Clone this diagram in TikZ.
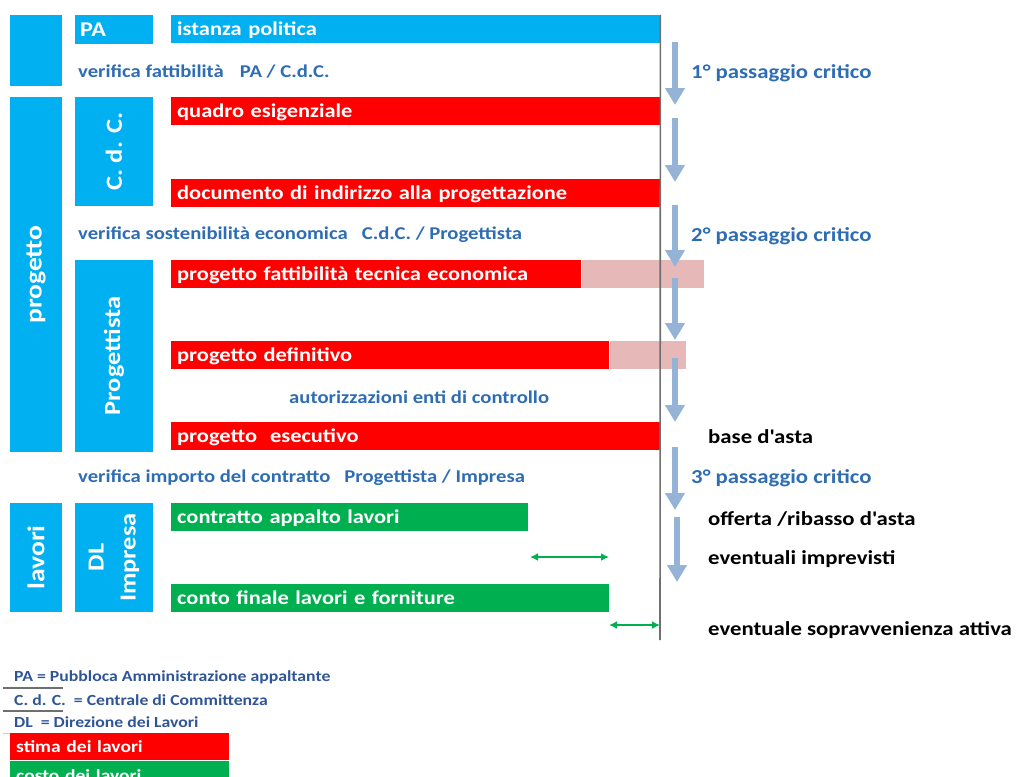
\documentclass[tikz,border=0pt]{standalone}
\usepackage{fontspec}
\setmainfont{Carlito}[FakeStretch=1.15]
\usetikzlibrary{arrows.meta}

\definecolor{boxblue}{HTML}{00B0F0}
\definecolor{barred}{HTML}{FF0000}
\definecolor{bargreen}{HTML}{00B050}
\definecolor{barpink}{HTML}{E6B9B8}
\definecolor{txtblue}{HTML}{2E6DB4}
\definecolor{legblue}{HTML}{2F5597}
\definecolor{flowblue}{HTML}{95B3D7}
\definecolor{axisgray}{HTML}{6F6F6F}

\tikzset{
	box/.style = {
		fill = boxblue,
		text = white,
		inner sep = 0pt,
		font = \bfseries\fontsize{23}{26}\selectfont,
	},
	bar/.style = {
		anchor = north west,
		minimum height = 28pt,
		text width = #1,
		inner xsep = 6pt,
		inner ysep = 0pt,
		text height = 15pt,
		text depth = 2pt,
		align = left,
		text = white,
		font = \bfseries\fontsize{19.5}{22}\selectfont,
	},
	extra/.style = {
		anchor = north west,
		fill = barpink,
		minimum width = #1,
		minimum height = 28pt,
		inner sep = 0pt,
	},
	check/.style = {
		anchor = west,
		inner sep = 0pt,
		text = txtblue,
		font = \bfseries\fontsize{18}{20}\selectfont,
	},
	note/.style = {
		anchor = west,
		inner sep = 0pt,
		font = \bfseries\fontsize{19.8}{22}\selectfont,
	},
	legend/.style = {
		anchor = west,
		inner sep = 0pt,
		text = legblue,
		font = \bfseries\fontsize{15.4}{17}\selectfont,
	},
	flow/.style = {
		draw = flowblue,
		line width = 6pt,
		-{Triangle[width = 19pt, length = 17pt]},
	},
	gap/.style = {
		draw = bargreen,
		line width = 2pt,
		{Latex[length = 8pt, width = 8pt]}-{Latex[length = 8pt, width = 8pt]},
	},
}

\begin{document}
\begin{tikzpicture}[x = 1pt, y = -1pt]

	\useasboundingbox (0,0) rectangle (1019,776);
	\clip (0,0) rectangle (1019,776);

	% left columns
	\node[box, anchor = north west, minimum width = 52pt, minimum height = 71pt]
		(start) at (10,15) {};
	\node[box, rotate = 90, minimum width = 355pt, minimum height = 52pt,
		font = \bfseries\fontsize{24}{26}\selectfont]
		(progetto) at (36,274.5) {progetto};
	\node[box, rotate = 90, minimum width = 109pt, minimum height = 52pt,
		font = \bfseries\fontsize{24}{26}\selectfont]
		(lavori) at (36,557.5) {lavori};

	\node[box, anchor = north west, minimum height = 29pt, text width = 68pt,
		inner xsep = 5pt, align = left, text height = 16pt, text depth = 2pt,
		font = \bfseries\fontsize{21}{24}\selectfont]
		(pa) at (75,15) {PA};
	\node[box, rotate = 90, minimum width = 109pt, minimum height = 78pt]
		(cdc) at (114,151.5) {C. d. C.};
	\node[box, rotate = 90, minimum width = 192pt, minimum height = 78pt]
		(progettista) at (114,356) {Progettista};
	\node[box, rotate = 90, minimum width = 109pt, minimum height = 78pt,
		align = center, font = \bfseries\fontsize{23}{32}\selectfont]
		(dlimpresa) at (114,557.5) {DL\\Impresa};

	% bars
	\node[bar = 477pt, fill = boxblue] (istanza) at (171,15) {istanza politica};
	\node[bar = 477pt, fill = barred] (quadro) at (171,97) {quadro esigenziale};
	\node[bar = 477pt, fill = barred] (indirizzo) at (171,179)
		{documento di indirizzo alla progettazione};
	\node[bar = 398pt, fill = barred] (fattibilita) at (171,260)
		{progetto fattibilità tecnica economica};
	\node[extra = 122pt] (fattibilitax) at (fattibilita.north east) {};
	\node[bar = 426pt, fill = barred] (definitivo) at (171,341)
		{progetto definitivo};
	\node[extra = 76pt] (definitivox) at (definitivo.north east) {};
	\node[bar = 477pt, fill = barred] (esecutivo) at (171,422)
		{progetto\ \ esecutivo};
	\node[bar = 345pt, fill = bargreen] (contratto) at (171,503)
		{contratto appalto lavori};
	\node[bar = 426pt, fill = bargreen] (conto) at (171,584)
		{conto finale lavori e forniture};

	% checks
	\node[check] (verifica1) at (78,72)
		{verifica fattibilità\hspace{16pt}PA / C.d.C.};
	\node[check] (verifica2) at (78,235)
		{verifica sostenibilità economica\hspace{14pt}C.d.C. / Progettista};
	\node[check] (enti) at (289,397) {autorizzazioni enti di controllo};
	\node[check] (verifica3) at (78,478)
		{verifica importo del contratto\hspace{14pt}Progettista / Impresa};

	% time axis
	\coordinate (axisend) at (660,640);
	\draw[axisgray, line width = 1.6pt] (istanza.north east) -- (axisend);

	% passages
	\foreach \n/\ya/\yb/\xa in {1/42/105/675, 2/118/182/675, 3/205/267/675,
		4/278/340/675, 5/358/422/675, 6/447/510/675, 7/517/582/677} {
		\coordinate (flow\n a) at (\xa,\ya);
		\coordinate (flow\n b) at (\xa,\yb);
		\draw[flow] (flow\n a) -- (flow\n b);
	}

	\node[note, text = txtblue] (critico1) at (691,73) {1° passaggio critico};
	\node[note, text = txtblue] (critico2) at (691,236) {2° passaggio critico};
	\node[note, text = txtblue] (critico3) at (691,478) {3° passaggio critico};
	\node[note] (base) at (708,437) {base d\textquotesingle asta};
	\node[note] (offerta) at (708,519) {offerta /ribasso d\textquotesingle asta};
	\node[note] (imprevisti) at (708,559) {eventuali imprevisti};
	\node[note] (sopravv) at (708,630) {eventuale sopravvenienza attiva};

	% differences
	\coordinate (imp1) at (530,557);
	\coordinate (imp2) at (609,557);
	\draw[gap] (imp1) -- (imp2);
	\coordinate (sop1) at (609,625);
	\coordinate (sop2) at (660,625);
	\draw[gap] (sop1) -- (sop2);

	% legend
	\node[legend] (legpa) at (14,677) {PA = Pubbloca Amministrazione appaltante};
	\node[legend] (legcdc) at (14,700) {C. d. C.\ \ = Centrale di Committenza};
	\node[legend] (legdl) at (14,722) {DL\ \ = Direzione dei Lavori};
	\draw[axisgray, line width = 1.5pt] (3,688) -- (63,688);
	\draw[axisgray, line width = 1.5pt] (3,711) -- (63,711);
	\draw[gray!40, line width = 0.8pt] (3,733) -- (60,733);
	\node[bar = 207pt, fill = barred, minimum height = 27pt,
		font = \bfseries\fontsize{17}{19}\selectfont, text height = 13pt]
		(stima) at (10,733) {stima dei lavori};
	\node[bar = 207pt, fill = bargreen, minimum height = 30pt,
		font = \bfseries\fontsize{17}{19}\selectfont, text height = 13pt]
		(costo) at (10,761) {costo dei lavori};

\end{tikzpicture}
\end{document}
